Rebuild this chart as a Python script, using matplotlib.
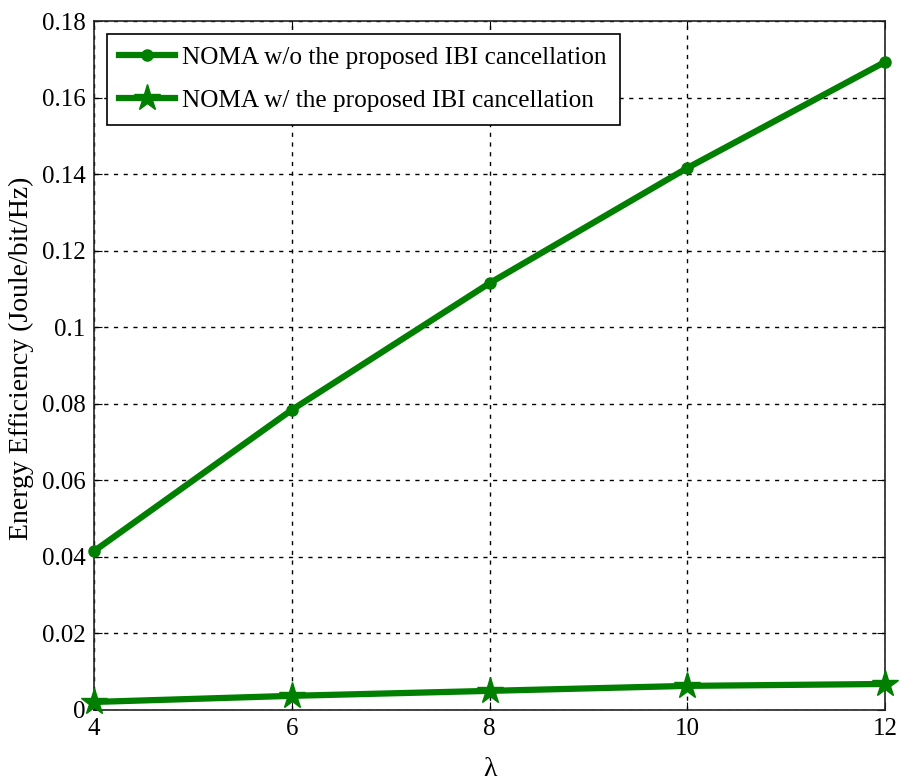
import numpy as np
import matplotlib
matplotlib.use('Agg')
from matplotlib import pyplot as plt

# values
lam = [4, 6, 8, 10, 12]
ee_without = [0.0415, 0.0784, 0.1115, 0.1416, 0.1693]
ee_with = [0.0021, 0.0037, 0.0050, 0.0063, 0.0068]

label_without = 'NOMA w/o the proposed IBI cancellation'
label_with = 'NOMA w/ the proposed IBI cancellation'

plt.rcParams['font.family'] = ['Liberation Serif', 'DejaVu Serif']

fig = plt.figure(figsize=(9.01, 7.83), dpi=100)
ax = fig.add_axes([94 / 901, 1 - 710 / 783, (885 - 94) / 901, (710 - 21) / 783])

green = '#007f00'
ax.plot(lam, ee_without, color=green, linewidth=4.5, marker='o', markersize=8,
        markerfacecolor=green, markeredgecolor=green, label=label_without, zorder=3,
        clip_on=False)
ax.plot(lam, ee_with, color=green, linewidth=4.5, marker='*', markersize=20,
        markerfacecolor=green, markeredgecolor=green, label=label_with, zorder=3,
        clip_on=False)

ax.set_xlim(4, 12)
ax.set_ylim(0, 0.18)
ax.set_xticks(lam)
yt = np.arange(0, 0.181, 0.02)
ax.set_yticks(yt)
ax.set_yticklabels(['0'] + ['%g' % v for v in yt[1:]])
ax.tick_params(direction='in', labelsize=18, length=6, top=True, right=True, pad=6)

ax.grid(True, color='black', linestyle=(0, (3, 4)), linewidth=1.0)
for s in ax.spines.values():
    s.set_linewidth(1.2)
    s.set_color('#222222')

ax.set_xlabel('\u03bb', fontsize=20, labelpad=12)
ax.set_ylabel('Energy Efficiency (Joule/bit/Hz)', fontsize=20)
ax.yaxis.set_label_coords(-0.076, 0.51)

leg = ax.legend(loc='upper left', fontsize=18.2, fancybox=False, edgecolor='black',
                framealpha=1, handlelength=2.2, borderaxespad=0.5,
                borderpad=0.5, labelspacing=0.8, handletextpad=0.3)
leg.get_frame().set_linewidth(1.2)

plt.savefig('out.png', dpi=100)
